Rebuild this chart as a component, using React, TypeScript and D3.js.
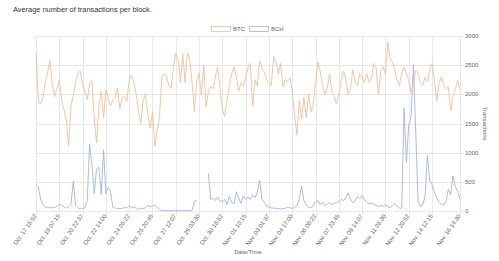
import React from "react";
import * as d3 from "d3";

const tickLabels = [
  "Oct. 17 15:52", "Oct. 19 07:15", "Oct. 20 22:37", "Oct. 22 14:00", "Oct. 24 05:22",
  "Oct. 25 20:45", "Oct. 27 12:07", "Oct. 29 03:30", "Oct. 30 18:52", "Nov. 01 10:15",
  "Nov. 03 01:37", "Nov. 04 17:00", "Nov. 06 08:22", "Nov. 07 23:45", "Nov. 09 14:07",
  "Nov. 11 05:30", "Nov. 12 20:52", "Nov. 14 12:15", "Nov. 16 14:30",
];
const tickIndex = [0, 10, 20, 30, 40, 50, 60, 70, 80, 90, 100, 110, 120, 130, 140, 150, 160, 170, 182];

const btc: number[] = [
  2730, 1900, 1830, 1950, 2200, 2380, 2580, 2150, 1960, 2100,
  2240, 1900, 1740, 1560, 1110, 1800, 1980, 2200, 2360, 2400,
  2160, 2050, 1910, 2180, 2230, 1600, 1165, 1800, 2050, 1600,
  2080, 1950, 1800, 1900, 1950, 2110, 1750, 1950, 1960, 1880,
  2250, 2330, 2200, 2000, 1720, 1500, 1900, 2000, 1650, 1420,
  1700, 1110, 1380, 1600, 2300, 2350, 2310, 2150, 2100, 2480,
  2700, 2600, 2200, 2700, 2200, 2720, 2600, 2200, 1700, 2250,
  2360, 1990, 2500, 1780, 2050, 2130, 2100, 2300, 2470, 2100,
  1750, 1620, 1900, 2150, 2350, 2470, 2300, 2050, 2200, 2150,
  2300, 2450, 2530, 1800, 2250, 2150, 2580, 2450, 2380, 2250,
  2200, 2150, 2650, 2550, 2350, 2530, 2130, 2250, 2220, 2280,
  2050, 1650, 1300, 1900, 1580, 1950, 1600, 2000, 1700, 1800,
  2200, 2550, 2400, 2150, 2000, 2100, 2350, 2050, 1950, 1840,
  2000, 2250, 2400, 2260, 2000, 2100, 2420, 2230, 2150, 2350,
  2300, 2200, 2350, 2200, 2280, 2530, 2450, 2000, 2400, 2470,
  2350, 2900, 2600, 2560, 2420, 2250, 2150, 2360, 2470, 2360,
  2230, 2030, 2180, 2410, 2360, 2200, 2150, 2290, 2220, 2420,
  2530, 2250, 1880, 2170, 2300, 2170, 2090, 2130, 1720, 1960,
  2080, 2240, 2080,
];

const bch: (number | null)[] = [
  460, 420, 200, 110, 65, 55, 60, 55, 60, 80,
  115, 95, 70, 50, 70, 110, 510, 90, 50, 45,
  45, 55, 180, 1150, 800, 300, 720, 750, 280, 1050,
  300, 400, 330, 60, 50, 45, 40, 45, 60, 50,
  90, 55, 70, 50, 30, 50, 40, 60, 100, 70,
  90, 100, 60, 20, 8, 6, 5, 6, 5, 5,
  6, 5, 5, 6, 5, 5, 6, 10, 170, 180,
  null, null, null, null, 650, 200, 220, 180, 240, 170,
  160, 200, 110, 250, 150, 120, 330, 220, 130, 260,
  200, 240, 200, 280, 230, 320, 530, 200, 150, 80,
  70, 50, 50, 45, 40, 35, 40, 50, 60, 55,
  45, 60, 90, 200, 430, 180, 100, 70, 50, 90,
  150, 180, 110, 150, 90, 120, 140, 110, 130, 150,
  160, 200, 180, 220, 310, 200, 140, 170, 250, 220,
  260, 190, 150, 120, 140, 110, 100, 80, 100, 80,
  110, 70, 60, 90, 130, 80, 50, 50, 1760, 830,
  1480, 1600, 2510, 1350, 160, 80, 100, 250, 950, 520,
  450, 330, 220, 150, 110, 100, 170, 370, 280, 600,
  420, 330, 200,
];

const yTicks = [0, 500, 1000, 1500, 2000, 2500, 3000];

const W = 499, H = 261;
const L = 36, R = 460, T = 36, B = 211;
const FONT = "'Liberation Sans', Arial, Helvetica, sans-serif";
const BTC_COLOR = "#f0bf98";
const BCH_COLOR = "#a3b3dd";
const GRID = "#e8e8e8";

export default function App() {
  const n = btc.length;
  const x = d3.scaleLinear().domain([0, n - 1]).range([L, R]);
  const y = d3.scaleLinear().domain([0, 3000]).range([B, T]);
  const line = d3
    .line<number | null>()
    .defined((d) => d != null)
    .x((_, i) => x(i))
    .y((d) => y(d as number));

  return (
    <svg width={W} height={H} style={{ position: "absolute", left: 0, top: 0, background: "#fff" }}>
      <text x={13} y={12} fontFamily={FONT} fontSize={7.4} fill="#333">
        Average number of transactions per block.
      </text>
      {/* legend */}
      <g fontFamily={FONT} fontSize={6} fill="#666">
        <rect x={211.5} y={26.5} width={19} height={5} fill="#fff" stroke={BTC_COLOR} strokeWidth={0.8} />
        <text x={233} y={31.2}>BTC</text>
        <rect x={249.5} y={26.5} width={19} height={5} fill="#fff" stroke={BCH_COLOR} strokeWidth={0.8} />
        <text x={271} y={31.2}>BCH</text>
      </g>
      {/* grid */}
      <g stroke={GRID} strokeWidth={1}>
        {yTicks.map((t) => (
          <line key={"h" + t} x1={L} x2={R + 4} y1={Math.round(y(t)) + 0.5} y2={Math.round(y(t)) + 0.5} />
        ))}
        {tickIndex.map((ti) => (
          <line key={"v" + ti} x1={Math.round(x(ti)) + 0.5} x2={Math.round(x(ti)) + 0.5} y1={T} y2={B + 4} />
        ))}
      </g>
      {/* lines */}
      <path d={line(bch) || ""} fill="none" stroke={BCH_COLOR} strokeWidth={0.9} />
      <path d={line(btc) || ""} fill="none" stroke={BTC_COLOR} strokeWidth={0.9} />
      {/* y ticks */}
      <g fontFamily={FONT} fontSize={6} fill="#666">
        {yTicks.map((t) => (
          <text key={"yt" + t} x={465} y={y(t) + 2}>{t}</text>
        ))}
      </g>
      <text
        transform={`translate(483,${(T + B) / 2}) rotate(90)`}
        textAnchor="middle"
        fontFamily={FONT}
        fontSize={6}
        fill="#666"
      >
        Transactions
      </text>
      {/* x ticks */}
      <g fontFamily={FONT} fontSize={6} fill="#666">
        {tickIndex.map((ti, k) => (
          <text
            key={"xt" + ti}
            transform={`translate(${x(ti) + 1},${B + 5}) rotate(-55)`}
            textAnchor="end"
          >
            {tickLabels[k]}
          </text>
        ))}
      </g>
      <text x={248} y={254} textAnchor="middle" fontFamily={FONT} fontSize={6} fill="#666">
        Date/Time
      </text>
    </svg>
  );
}
